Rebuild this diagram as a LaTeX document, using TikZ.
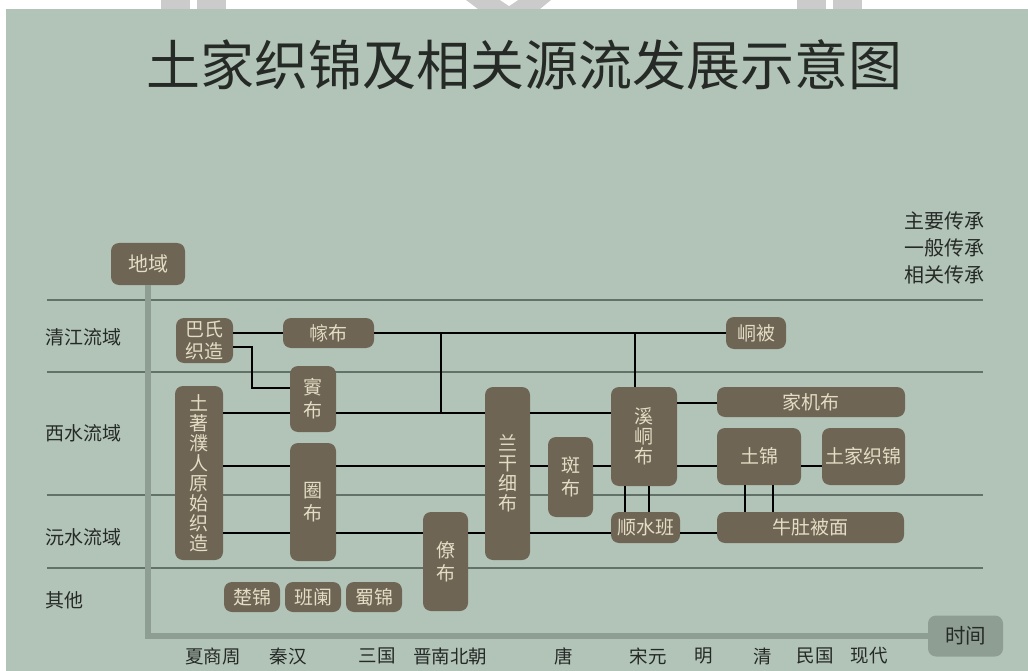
\documentclass[tikz,border=0pt]{standalone}
\usepackage{fontspec}
\setmainfont{Noto Sans CJK SC}
\definecolor{bg}{HTML}{B2C4B8}
\definecolor{boxc}{HTML}{6E6555}
\definecolor{boxt}{HTML}{E4DCC3}
\definecolor{axisc}{HTML}{8E9E93}
\definecolor{divc}{HTML}{627268}
\definecolor{ink}{HTML}{262A27}
\definecolor{wm}{HTML}{CBCBCB}
\begin{document}
\begin{tikzpicture}[x=1pt,y=-1pt,
  box/.style={fill=boxc, rounded corners=8pt, inner sep=0pt, text=boxt,
    font=\fontsize{19}{20}\selectfont, align=center},
  vbox2/.style={box, font=\fontsize{19}{23}\selectfont},
  lab/.style={text=ink, inner sep=0pt, font=\fontsize{19}{20}\selectfont},
  era/.style={text=ink, inner sep=0pt, font=\fontsize{18.5}{20}\selectfont},
  conn/.style={draw=black, line width=2.6pt},
  divider/.style={draw=divc, line width=1.8pt},
  axisline/.style={draw=axisc, line width=6pt}]
\useasboundingbox (0,0) rectangle (1028,671);
\fill[white] (0,0) rectangle (1028,671);
\fill[bg] (6,9) rectangle (1028,671);
% watermark remnants in the top strip
\fill[wm] (161,0) rectangle (190,9);
\fill[wm] (197,0) rectangle (226,9);
\fill[wm] (466,0) -- (551,0) -- (540,9) -- (478,9) -- cycle;
\fill[white] (500,0) -- (518,0) -- (509,6) -- cycle;
\fill[wm] (797,0) rectangle (826,9);
\fill[wm] (833,0) rectangle (862,9);

% title
\node[text=ink, inner sep=0pt, font=\fontsize{54}{60}\selectfont] (title) at (524,65) {土家织锦及相关源流发展示意图};

% legend
\node[lab, anchor=west, font=\fontsize{20}{22}\selectfont] (lg1) at (904,221) {主要传承};
\node[lab, anchor=west, font=\fontsize{20}{22}\selectfont] (lg2) at (904,248) {一般传承};
\node[lab, anchor=west, font=\fontsize{20}{22}\selectfont] (lg3) at (904,275) {相关传承};

% region dividers
\foreach \yy in {300,372,495,568} \draw[divider] (47,\yy) -- (983,\yy);

% region labels
\node[lab, anchor=west] (reg1) at (45,337) {清江流域};
\node[lab, anchor=west] (reg2) at (45,433) {西水流域};
\node[lab, anchor=west] (reg3) at (45,537) {沅水流域};
\node[lab, anchor=west] (reg4) at (45,600) {其他};

% axes boxes
\node[box, minimum width=74pt, minimum height=42pt, font=\fontsize{20}{22}\selectfont] (diyu) at (148,264) {地域};
\node[fill=axisc, rounded corners=8pt, inner sep=0pt, text=ink, minimum width=75pt, minimum height=41pt, font=\fontsize{20.5}{22}\selectfont] (shijian) at (965.5,636) {时间};
\draw[axisline] (diyu.south) |- (shijian.west);

% era labels
\node[era] (e1) at (213,656) {夏商周};
\node[era] (e2) at (288,656) {秦汉};
\node[era] (e3) at (377,656) {三国};
\node[era] (e4) at (450,656) {晋南北朝};
\node[era] (e5) at (564,656) {唐};
\node[era] (e6) at (648,656) {宋元};
\node[era] (e7) at (704,656) {明};
\node[era] (e8) at (763,656) {清};
\node[era] (e9) at (815,656) {民国};
\node[era] (e10) at (869,656) {现代};

% boxes
\node[box, minimum width=57pt, minimum height=45pt, font=\fontsize{19}{22}\selectfont] (bashi) at (204.5,340.5) {巴氏\\织造};
\node[box, minimum width=91pt, minimum height=30pt] (zhuabu) at (328.5,333) {幏布};
\node[vbox2, minimum width=46pt, minimum height=66pt] (congbu) at (313,399) {賨\\布};
\node[box, minimum width=48pt, minimum height=174pt] (tuzhu) at (199,473) {土\\著\\濮\\人\\原\\始\\织\\造};
\node[vbox2, minimum width=46pt, minimum height=118pt] (quanbu) at (313,502) {圈\\布};
\node[vbox2, minimum width=45pt, minimum height=99pt] (liaobu) at (445.5,561.5) {僚\\布};
\node[box, minimum width=45pt, minimum height=173pt] (langan) at (507.5,473.5) {兰\\干\\细\\布};
\node[vbox2, minimum width=45pt, minimum height=80pt] (banbu) at (570.5,477) {斑\\布};
\node[box, minimum width=66pt, minimum height=99pt] (xidong) at (644,436.5) {溪\\峒\\布};
\node[box, minimum width=69pt, minimum height=31pt] (shunshui) at (645.5,527.5) {顺水班};
\node[box, minimum width=60pt, minimum height=32pt] (dongbei) at (756,333) {峒被};
\node[box, minimum width=188pt, minimum height=30pt] (jiaji) at (811,402) {家机布};
\node[box, minimum width=84pt, minimum height=57pt] (tujin) at (759,456.5) {土锦};
\node[box, minimum width=83pt, minimum height=57pt] (tujia) at (863.5,456.5) {土家织锦};
\node[box, minimum width=187pt, minimum height=31pt] (niudu) at (810.5,527.5) {牛肚被面};
\node[box, minimum width=56pt, minimum height=30pt] (chujin) at (252,597) {楚锦};
\node[box, minimum width=56pt, minimum height=30pt] (banlan) at (313,597) {班阑};
\node[box, minimum width=56pt, minimum height=30pt] (shujin) at (374,597) {蜀锦};

% row / column helper coordinates
\coordinate (rA) at (0,333);
\coordinate (rB) at (0,413);
\coordinate (rC) at (0,466);
\coordinate (rD) at (0,533);
\coordinate (rE) at (0,403);
\coordinate (rF) at (0,347);
\coordinate (rG) at (0,388);
\coordinate (vK) at (252,0);
\coordinate (vL) at (441,0);
\coordinate (vM) at (635,0);
\coordinate (vN) at (625,0);
\coordinate (vO) at (649,0);
\coordinate (vP) at (745,0);
\coordinate (vQ) at (773,0);

% connectors
\draw[conn] (bashi.east |- rA) -- (zhuabu.west |- rA);
\draw[conn] (zhuabu.east |- rA) -- (dongbei.west |- rA);
\draw[conn] (vL |- rA) -- (vL |- rB);
\draw[conn] (vM |- rA) -- (vM |- xidong.north);
\draw[conn] (bashi.east |- rF) -- (vK |- rF) -- (vK |- rG) -- (congbu.west |- rG);
\draw[conn] (tuzhu.east |- rB) -- (congbu.west |- rB);
\draw[conn] (congbu.east |- rB) -- (langan.west |- rB);
\draw[conn] (langan.east |- rB) -- (xidong.west |- rB);
\draw[conn] (xidong.east |- rE) -- (jiaji.west |- rE);
\draw[conn] (tuzhu.east |- rC) -- (quanbu.west |- rC);
\draw[conn] (quanbu.east |- rC) -- (langan.west |- rC);
\draw[conn] (langan.east |- rC) -- (banbu.west |- rC);
\draw[conn] (banbu.east |- rC) -- (xidong.west |- rC);
\draw[conn] (xidong.east |- rC) -- (tujin.west |- rC);
\draw[conn] (tujin.east |- rC) -- (tujia.west |- rC);
\draw[conn] (tuzhu.east |- rD) -- (quanbu.west |- rD);
\draw[conn] (quanbu.east |- rD) -- (liaobu.west |- rD);
\draw[conn] (liaobu.east |- rD) -- (langan.west |- rD);
\draw[conn] (langan.east |- rD) -- (shunshui.west |- rD);
\draw[conn] (shunshui.east |- rD) -- (niudu.west |- rD);
\draw[conn] (vN |- xidong.south) -- (vN |- shunshui.north);
\draw[conn] (vO |- xidong.south) -- (vO |- shunshui.north);
\draw[conn] (vP |- tujin.south) -- (vP |- niudu.north);
\draw[conn] (vQ |- tujin.south) -- (vQ |- niudu.north);
\end{tikzpicture}
\end{document}
